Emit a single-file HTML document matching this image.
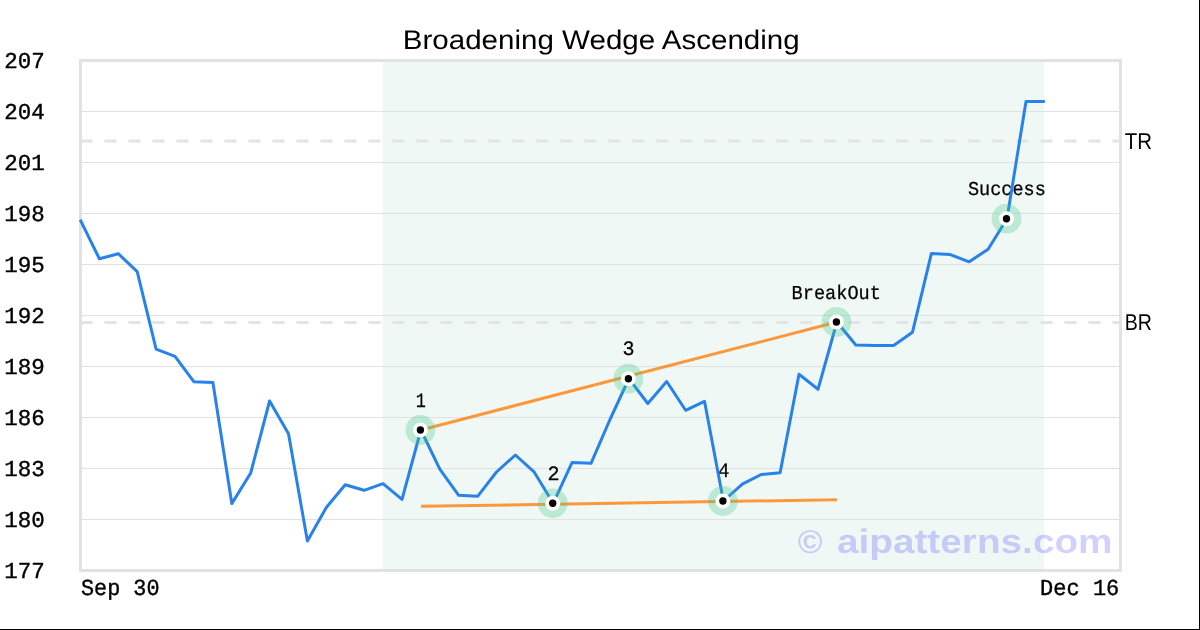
<!DOCTYPE html>
<html><head><meta charset="utf-8"><title>Broadening Wedge Ascending</title>
<style>
html,body{margin:0;padding:0;background:#fff;}
body{width:1200px;height:630px;overflow:hidden;position:relative;font-family:"Liberation Sans",sans-serif;}
svg{position:absolute;left:0;top:0;display:block;will-change:transform;}
text{text-rendering:geometricPrecision;}
.mono{font-family:"Liberation Mono",monospace;}
.sans{font-family:"Liberation Sans",sans-serif;}
#edge{position:absolute;left:0;top:0;width:1199px;height:629px;border-right:1px solid #000;border-bottom:1px solid #000;}
</style></head><body>
<svg width="1200" height="630" viewBox="0 0 1200 630">
<rect x="0" y="0" width="1200" height="630" fill="#fff"/>
<rect x="382.5" y="60.5" width="661.8" height="510.0" fill="#f0f8f5"/>
<g stroke="#e1e1e1" stroke-width="1"><line x1="80.5" x2="1120.5" y1="111.5" y2="111.5"/><line x1="80.5" x2="1120.5" y1="162.5" y2="162.5"/><line x1="80.5" x2="1120.5" y1="213.5" y2="213.5"/><line x1="80.5" x2="1120.5" y1="264.5" y2="264.5"/><line x1="80.5" x2="1120.5" y1="315.5" y2="315.5"/><line x1="80.5" x2="1120.5" y1="366.5" y2="366.5"/><line x1="80.5" x2="1120.5" y1="417.5" y2="417.5"/><line x1="80.5" x2="1120.5" y1="468.5" y2="468.5"/><line x1="80.5" x2="1120.5" y1="519.5" y2="519.5"/></g>
<g stroke="#e4e4e4" stroke-width="3" stroke-dasharray="12 12"><line x1="80.5" x2="1120.5" y1="141" y2="141"/><line x1="80.5" x2="1120.5" y1="322.5" y2="322.5"/></g>
<g class="sans" font-weight="bold" fill="#0000ff" fill-opacity="0.18"><text x="797.7" y="553.0" font-size="33" textLength="24.7" lengthAdjust="spacingAndGlyphs">©</text><text x="836.9" y="552.8" font-size="34" textLength="275.7" lengthAdjust="spacingAndGlyphs">aipatterns.com</text></g>
<g class="mono" fill="#000" stroke="#000" stroke-width="0.25"><text x="415.8" y="407.0" font-size="20.5" textLength="10.1" lengthAdjust="spacingAndGlyphs">1</text><text x="547.5" y="479.7" font-size="20.5" textLength="12.1" lengthAdjust="spacingAndGlyphs">2</text><text x="622.6" y="354.8" font-size="20.5" textLength="12.0" lengthAdjust="spacingAndGlyphs">3</text><text x="718.1" y="476.7" font-size="20.5" textLength="11.5" lengthAdjust="spacingAndGlyphs">4</text><text x="791.6" y="298.8" font-size="19.7" textLength="89.3" lengthAdjust="spacingAndGlyphs">BreakOut</text><text x="968.0" y="195.0" font-size="19.7" textLength="77.8" lengthAdjust="spacingAndGlyphs">Success</text></g>
<rect x="80.5" y="60.5" width="1040.0" height="510.0" fill="none" stroke="#e2e2e2" stroke-width="3"/>
<g stroke="#ff7f0e" stroke-opacity="0.8" stroke-width="3" fill="none"><line x1="420.9" y1="430" x2="836.9" y2="322"/><line x1="420.9" y1="506.3" x2="836.9" y2="499.7"/></g>
<defs><clipPath id="cp"><rect x="79" y="59" width="1043" height="513"/></clipPath></defs>
<polyline clip-path="url(#cp)" points="80.2,219.7 99.4,258.8 118.3,253.7 137.2,271.7 156.1,349.2 175.0,356.3 194.0,381.8 212.9,382.4 231.8,503.6 250.7,473.0 269.6,401.0 288.5,433.7 307.4,541.0 326.3,507.5 345.2,484.7 364.1,490.3 383.0,483.7 402.0,499.3 420.9,430.0 439.8,469.2 458.7,495.3 477.6,496.3 496.5,472.0 515.4,455.0 534.3,472.2 553.2,503.3 572.1,462.4 591.0,463.3 610.0,419.5 628.9,378.7 647.8,403.5 666.7,381.5 685.6,410.3 704.5,401.3 723.4,501.0 742.3,484.2 761.2,474.5 780.1,472.7 799.0,374.3 818.0,389.3 836.9,322.0 855.8,345.0 874.7,345.5 893.6,345.5 912.5,332.2 931.4,253.5 950.3,254.6 969.2,261.8 988.1,249.2 1007.0,218.7 1026.0,101.5 1044.9,101.5" fill="none" stroke="#2882ea" stroke-width="3" stroke-linejoin="round" stroke-linecap="butt"/>
<circle cx="420.4" cy="430.0" r="14.9" fill="#46c687" fill-opacity="0.3"/><circle cx="420.4" cy="430.0" r="7.5" fill="#fff"/><circle cx="420.4" cy="430.0" r="3.7" fill="#000"/>
<circle cx="552.7" cy="503.3" r="14.9" fill="#46c687" fill-opacity="0.3"/><circle cx="552.7" cy="503.3" r="7.5" fill="#fff"/><circle cx="552.7" cy="503.3" r="3.7" fill="#000"/>
<circle cx="628.4" cy="378.7" r="14.9" fill="#46c687" fill-opacity="0.3"/><circle cx="628.4" cy="378.7" r="7.5" fill="#fff"/><circle cx="628.4" cy="378.7" r="3.7" fill="#000"/>
<circle cx="722.9" cy="501.0" r="14.9" fill="#46c687" fill-opacity="0.3"/><circle cx="722.9" cy="501.0" r="7.5" fill="#fff"/><circle cx="722.9" cy="501.0" r="3.7" fill="#000"/>
<circle cx="836.4" cy="322.0" r="14.9" fill="#46c687" fill-opacity="0.3"/><circle cx="836.4" cy="322.0" r="7.5" fill="#fff"/><circle cx="836.4" cy="322.0" r="3.7" fill="#000"/>
<circle cx="1006.5" cy="218.7" r="14.9" fill="#46c687" fill-opacity="0.3"/><circle cx="1006.5" cy="218.7" r="7.5" fill="#fff"/><circle cx="1006.5" cy="218.7" r="3.7" fill="#000"/>

<g class="sans" fill="#000"><text x="402.8" y="48.6" font-size="27" textLength="396.9" lengthAdjust="spacingAndGlyphs">Broadening Wedge Ascending</text><text x="1124.8" y="148.9" font-size="23" textLength="27.3" lengthAdjust="spacingAndGlyphs">TR</text><text x="1124.8" y="329.8" font-size="23" textLength="27.2" lengthAdjust="spacingAndGlyphs">BR</text></g>
<g class="mono" fill="#000" stroke="#000" stroke-width="0.4"><text x="4.2" y="68.0" font-size="22.7" textLength="40.5" lengthAdjust="spacingAndGlyphs">207</text><text x="4.2" y="119.0" font-size="22.7" textLength="40.5" lengthAdjust="spacingAndGlyphs">204</text><text x="4.2" y="170.0" font-size="22.7" textLength="40.5" lengthAdjust="spacingAndGlyphs">201</text><text x="4.2" y="221.0" font-size="22.7" textLength="40.5" lengthAdjust="spacingAndGlyphs">198</text><text x="4.2" y="272.0" font-size="22.7" textLength="40.5" lengthAdjust="spacingAndGlyphs">195</text><text x="4.2" y="323.0" font-size="22.7" textLength="40.5" lengthAdjust="spacingAndGlyphs">192</text><text x="4.2" y="374.0" font-size="22.7" textLength="40.5" lengthAdjust="spacingAndGlyphs">189</text><text x="4.2" y="425.0" font-size="22.7" textLength="40.5" lengthAdjust="spacingAndGlyphs">186</text><text x="4.2" y="476.0" font-size="22.7" textLength="40.5" lengthAdjust="spacingAndGlyphs">183</text><text x="4.2" y="527.0" font-size="22.7" textLength="40.5" lengthAdjust="spacingAndGlyphs">180</text><text x="4.2" y="578.0" font-size="22.7" textLength="40.5" lengthAdjust="spacingAndGlyphs">177</text><text x="81.0" y="595.0" font-size="22.9" textLength="78.5" lengthAdjust="spacingAndGlyphs">Sep 30</text><text x="1040.1" y="595.0" font-size="22.9" textLength="79.2" lengthAdjust="spacingAndGlyphs">Dec 16</text></g>
</svg>
<div id="edge"></div>
</body></html>
